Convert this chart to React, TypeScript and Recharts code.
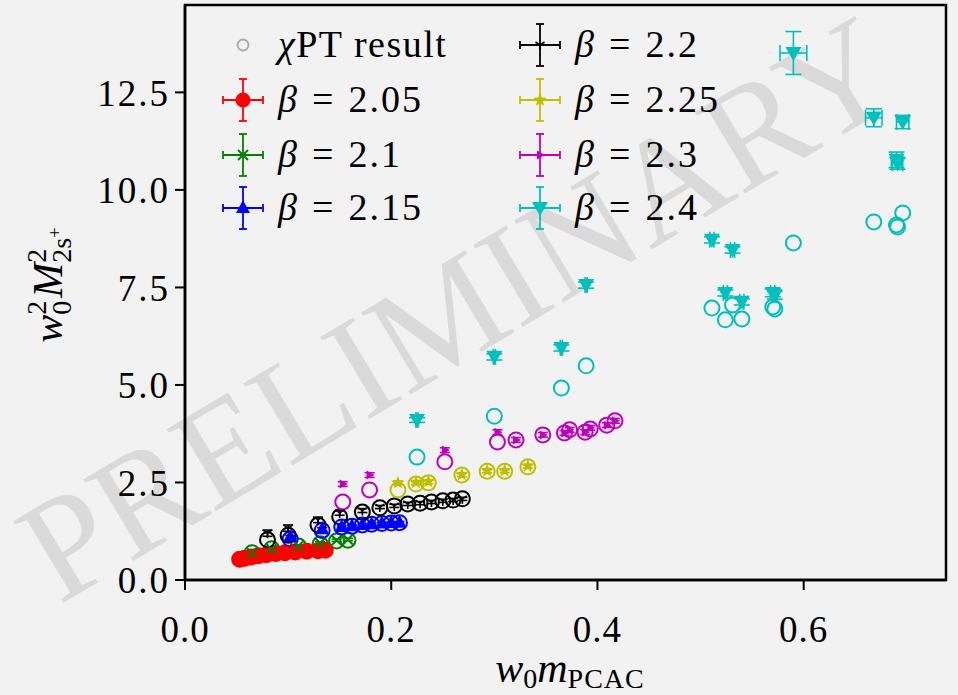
import { ScatterChart, Scatter, XAxis, YAxis, ErrorBar, ReferenceArea } from 'recharts';

const FONT = '"Liberation Serif", "DejaVu Serif", serif';
const X_MAX = 0.738;
const Y_MAX = 14.74;
const X_TICKS = [0, 0.2, 0.4, 0.6];
const Y_TICKS = [0, 2.5, 5, 7.5, 10, 12.5];

// beta = 2.05
const b205X = [0.053, 0.058, 0.064, 0.071, 0.079, 0.088, 0.097, 0.107, 0.118, 0.129, 0.136];
const b205Y = [0.52, 0.55, 0.58, 0.61, 0.64, 0.67, 0.69, 0.71, 0.73, 0.75, 0.77];
const b205Chi = [0.53, 0.56, 0.59, 0.62, 0.65, 0.68, 0.7, 0.72, 0.74, 0.75, 0.76];
const b205Ey = [0.02, 0.02, 0.02, 0.02, 0.02, 0.02, 0.02, 0.02, 0.02, 0.02, 0.02];

// beta = 2.1
const b21X = [0.065, 0.084, 0.11, 0.131, 0.147, 0.158];
const b21Y = [0.69, 0.79, 0.87, 0.95, 1.02, 1.04];
const b21Chi = [0.7, 0.8, 0.87, 0.93, 1.0, 1.02];
const b21Ey = [0.03, 0.03, 0.03, 0.03, 0.03, 0.03];

// beta = 2.15
const b215X = [0.102, 0.133, 0.152, 0.162, 0.172, 0.181, 0.191, 0.2, 0.208];
const b215Y = [1.1, 1.3, 1.36, 1.38, 1.41, 1.43, 1.45, 1.46, 1.47];
const b215Chi = [1.05, 1.27, 1.36, 1.38, 1.41, 1.43, 1.45, 1.46, 1.47];
const b215Ey = [0.04, 0.04, 0.03, 0.03, 0.03, 0.03, 0.03, 0.03, 0.03];

// beta = 2.2
const b22X = [0.08, 0.1, 0.129, 0.15, 0.172, 0.189, 0.203, 0.216, 0.228, 0.239, 0.25, 0.26, 0.269];
const b22Y = [1.2, 1.33, 1.54, 1.72, 1.78, 1.87, 1.9, 1.95, 1.97, 2.0, 2.03, 2.05, 2.08];
const b22Chi = [1.03, 1.15, 1.41, 1.62, 1.74, 1.85, 1.9, 1.95, 1.97, 2.0, 2.03, 2.05, 2.08];
const b22Ey = [0.08, 0.08, 0.07, 0.06, 0.05, 0.04, 0.04, 0.04, 0.04, 0.04, 0.04, 0.04, 0.04];

// beta = 2.25
const b225X = [0.2065, 0.224, 0.236, 0.2685, 0.293, 0.31, 0.3325];
const b225Y = [2.49, 2.5, 2.52, 2.7, 2.8, 2.8, 2.92];
const b225Chi = [2.31, 2.46, 2.49, 2.69, 2.79, 2.79, 2.9];
const b225Ey = [0.05, 0.05, 0.05, 0.05, 0.05, 0.05, 0.05];

// beta = 2.3
const b23X = [0.153, 0.179, 0.252, 0.303, 0.321, 0.347, 0.368, 0.373, 0.388, 0.393, 0.409, 0.417];
const b23Y = [2.46, 2.69, 3.33, 3.79, 3.59, 3.72, 3.77, 3.85, 3.79, 3.9, 3.97, 4.08];
const b23Chi = [2.0, 2.31, 3.03, 3.54, 3.59, 3.72, 3.77, 3.85, 3.79, 3.87, 3.97, 4.08];
const b23Ey = [0.06, 0.06, 0.06, 0.06, 0.06, 0.06, 0.06, 0.06, 0.06, 0.06, 0.06, 0.06];

// beta = 2.4
const b24X = [0.225, 0.3, 0.365, 0.389, 0.511, 0.531, 0.524, 0.54, 0.57, 0.572, 0.59, 0.668, 0.696, 0.69, 0.691];
const b24Y = [4.1, 5.72, 5.95, 7.56, 8.72, 8.46, 7.36, 7.13, 7.36, 7.3, 13.51, 11.85, 11.74, 10.77, 10.68];
const b24Chi = [3.15, 4.2, 4.92, 5.49, 6.97, 7.05, 6.67, 6.69, 7.0, 6.95, 8.64, 9.18, 9.41, 9.1, 9.05];
const b24Ey = [0.06, 0.08, 0.08, 0.08, 0.08, 0.08, 0.08, 0.08, 0.1, 0.1, 0.55, 0.23, 0.17, 0.2, 0.15];
const b24Ex = [0.001, 0.001, 0.001, 0.001, 0.002, 0.002, 0.002, 0.002, 0.002, 0.002, 0.013, 0.008, 0.006, 0.005, 0.005];

const series = [
  { name: '2.05', color: '#ff0000', kind: 'o', x: b205X, y: b205Y, chi: b205Chi, ey: b205Ey, ex: null as number[] | null },
  { name: '2.1', color: '#008000', kind: 'x', x: b21X, y: b21Y, chi: b21Chi, ey: b21Ey, ex: null },
  { name: '2.15', color: '#0000ff', kind: '^', x: b215X, y: b215Y, chi: b215Chi, ey: b215Ey, ex: null },
  { name: '2.2', color: '#000000', kind: '1', x: b22X, y: b22Y, chi: b22Chi, ey: b22Ey, ex: null },
  { name: '2.25', color: '#bfbf00', kind: '*', x: b225X, y: b225Y, chi: b225Chi, ey: b225Ey, ex: null },
  { name: '2.3', color: '#bf00bf', kind: '>', x: b23X, y: b23Y, chi: b23Chi, ey: b23Ey, ex: null },
  { name: '2.4', color: '#00bfbf', kind: 'v', x: b24X, y: b24Y, chi: b24Chi, ey: b24Ey, ex: b24Ex },
];

const starPts = (cx: number, cy: number, R: number, r: number) => {
  const p: string[] = [];
  for (let i = 0; i < 10; i++) {
    const a = -Math.PI / 2 + (i * Math.PI) / 5;
    const rr = i % 2 === 0 ? R : r;
    p.push(`${cx + rr * Math.cos(a)},${cy + rr * Math.sin(a)}`);
  }
  return p.join(' ');
};

const Marker = ({ kind, color, cx, cy }: { kind: string; color: string; cx: number; cy: number }) => {
  switch (kind) {
    case 'o':
      return <circle cx={cx} cy={cy} r={7.5} fill={color} />;
    case 'x':
      return (
        <g stroke={color} strokeWidth={2}>
          <line x1={cx - 5} y1={cy - 5} x2={cx + 5} y2={cy + 5} />
          <line x1={cx - 5} y1={cy + 5} x2={cx + 5} y2={cy - 5} />
        </g>
      );
    case '^':
      return <polygon points={`${cx},${cy - 8} ${cx - 7},${cy + 5} ${cx + 7},${cy + 5}`} fill={color} />;
    case '1':
      return (
        <g stroke={color} strokeWidth={1.6}>
          <line x1={cx} y1={cy} x2={cx} y2={cy + 5} />
          <line x1={cx} y1={cy} x2={cx - 4.5} y2={cy - 3} />
          <line x1={cx} y1={cy} x2={cx + 4.5} y2={cy - 3} />
        </g>
      );
    case '*':
      return <polygon points={starPts(cx, cy, 7, 3)} fill={color} />;
    case '>':
      return <polygon points={`${cx + 5},${cy} ${cx - 3},${cy - 4.5} ${cx - 3},${cy + 4.5}`} fill={color} />;
    case 'v':
      return <polygon points={`${cx - 8},${cy - 6} ${cx + 8},${cy - 6} ${cx},${cy + 8}`} fill={color} />;
    default:
      return <circle cx={cx} cy={cy} r={7.5} fill="none" stroke={color} strokeWidth={2} />;
  }
};

const LegendIcon = ({ x, y, color, kind }: { x: number; y: number; color: string; kind: string }) => (
  <g>
    <g stroke={color} strokeWidth={1.8}>
      <line x1={x - 20} y1={y} x2={x + 20} y2={y} />
      <line x1={x} y1={y - 21} x2={x} y2={y + 21} />
      <line x1={x - 20} y1={y - 4} x2={x - 20} y2={y + 4} />
      <line x1={x + 20} y1={y - 4} x2={x + 20} y2={y + 4} />
      <line x1={x - 4} y1={y - 21} x2={x + 4} y2={y - 21} />
      <line x1={x - 4} y1={y + 21} x2={x + 4} y2={y + 21} />
    </g>
    <Marker kind={kind} color={color} cx={x} cy={y} />
  </g>
);

const BetaLabel = ({ x, y, v }: { x: number; y: number; v: string }) => (
  <text x={x} y={y} fontSize={38} fontFamily={FONT} fill="#000" letterSpacing={1}>
    <tspan fontStyle="italic">β</tspan>
    <tspan dx={14}>=</tspan>
    <tspan dx={14} letterSpacing={2}>{v}</tspan>
  </text>
);

const LEG_ROWS = [45, 100, 155, 208];

export default function App() {
  return (
    <div style={{ position: 'absolute', left: 0, top: 0, width: 958, height: 695, background: '#f2f2f2', overflow: 'hidden' }}>
      <svg width={958} height={695} style={{ position: 'absolute', left: 0, top: 0 }}>
        <text
          x={466}
          y={322}
          fontSize={146}
          fontFamily={FONT}
          fill="#dadada"
          textAnchor="middle"
          dominantBaseline="middle"
          transform="rotate(-31, 466, 322)"
        >
          PRELIMINARY
        </text>
      </svg>
      <div style={{ position: 'absolute', left: 0, top: 0 }}>
        <ScatterChart width={958} height={695} margin={{ top: 5, right: 12, bottom: 55, left: 95 }}>
          <XAxis
            type="number"
            dataKey="x"
            domain={[0, X_MAX]}
            ticks={X_TICKS}
            tickFormatter={(v: number) => v.toFixed(1)}
            height={60}
            tickSize={10}
            tickMargin={26}
            axisLine={{ stroke: '#000', strokeWidth: 2.5 }}
            tickLine={{ stroke: '#000', strokeWidth: 2 }}
            tick={{ fontSize: 37, fontFamily: FONT, fill: '#000', letterSpacing: 1 }}
            allowDataOverflow
          />
          <YAxis
            type="number"
            dataKey="y"
            domain={[0, Y_MAX]}
            ticks={Y_TICKS}
            tickFormatter={(v: number) => v.toFixed(1)}
            width={90}
            tickSize={10}
            tickMargin={5}
            axisLine={{ stroke: '#000', strokeWidth: 2.5 }}
            tickLine={{ stroke: '#000', strokeWidth: 2 }}
            tick={{ fontSize: 37, fontFamily: FONT, fill: '#000', letterSpacing: 2 }}
            allowDataOverflow
          />
          <ReferenceArea x1={0} x2={X_MAX} y1={0} y2={Y_MAX} fill="none" stroke="#000" strokeWidth={2.5} ifOverflow="visible" />
          {series.map((s) => (
            <Scatter
              key={`chi-${s.name}`}
              data={s.x.map((v, i) => ({ x: v, y: s.chi[i] }))}
              isAnimationActive={false}
              shape={(p: any) => <Marker kind="chi" color={s.color} cx={p.cx} cy={p.cy} />}
            />
          ))}
          {series.map((s) => (
            <Scatter
              key={`dat-${s.name}`}
              data={s.x.map((v, i) => ({ x: v, y: s.y[i], ex: s.ex ? s.ex[i] : 0, ey: s.ey[i] }))}
              isAnimationActive={false}
              shape={(p: any) => <Marker kind={s.kind} color={s.color} cx={p.cx} cy={p.cy} />}
            >
              <ErrorBar dataKey="ey" direction="y" width={s.ex ? 8 : 5} stroke={s.color} strokeWidth={1.6} />
              {s.ex && <ErrorBar dataKey="ex" direction="x" width={8} stroke={s.color} strokeWidth={1.6} />}
            </Scatter>
          ))}
        </ScatterChart>
      </div>
      <svg width={958} height={695} style={{ position: 'absolute', left: 0, top: 0, pointerEvents: 'none' }}>
        {/* legend */}
        <circle cx={243} cy={LEG_ROWS[0]} r={5.5} fill="none" stroke="#aaaaaa" strokeWidth={1.8} />
        <text x={278} y={LEG_ROWS[0] + 12} fontSize={38} fontFamily={FONT} fill="#000" letterSpacing={1.5}>
          <tspan fontStyle="italic">χ</tspan>PT result
        </text>
        {series.slice(0, 3).map((s, i) => (
          <g key={s.name}>
            <LegendIcon x={243} y={LEG_ROWS[i + 1]} color={s.color} kind={s.kind} />
            <BetaLabel x={278} y={LEG_ROWS[i + 1] + 12} v={s.name} />
          </g>
        ))}
        {series.slice(3).map((s, i) => (
          <g key={s.name}>
            <LegendIcon x={540} y={LEG_ROWS[i]} color={s.color} kind={s.kind} />
            <BetaLabel x={575} y={LEG_ROWS[i] + 12} v={s.name} />
          </g>
        ))}
        {/* axis labels */}
        <text x={570} y={682} fontSize={42} fontFamily={FONT} fill="#000" textAnchor="middle">
          <tspan fontStyle="italic">w</tspan>
          <tspan fontSize={28} dy={6}>0</tspan>
          <tspan fontStyle="italic" dy={-6}>m</tspan>
          <tspan fontSize={28} dy={6} letterSpacing={1}>PCAC</tspan>
        </text>
        <text x={62} y={285} fontSize={42} fontFamily={FONT} fill="#000" textAnchor="middle" transform="rotate(-90, 62, 285)">
          <tspan fontStyle="italic">w</tspan>
          <tspan fontSize={28} dy={-16}>2</tspan>
          <tspan fontSize={28} dx={-14} dy={25}>0</tspan>
          <tspan fontStyle="italic" dx={3} dy={-9}>M</tspan>
          <tspan fontSize={28} dy={-16}>2</tspan>
          <tspan fontSize={28} dx={-14} dy={25}>2s</tspan>
          <tspan fontSize={19} dy={-10}>+</tspan>
        </text>
      </svg>
    </div>
  );
}
